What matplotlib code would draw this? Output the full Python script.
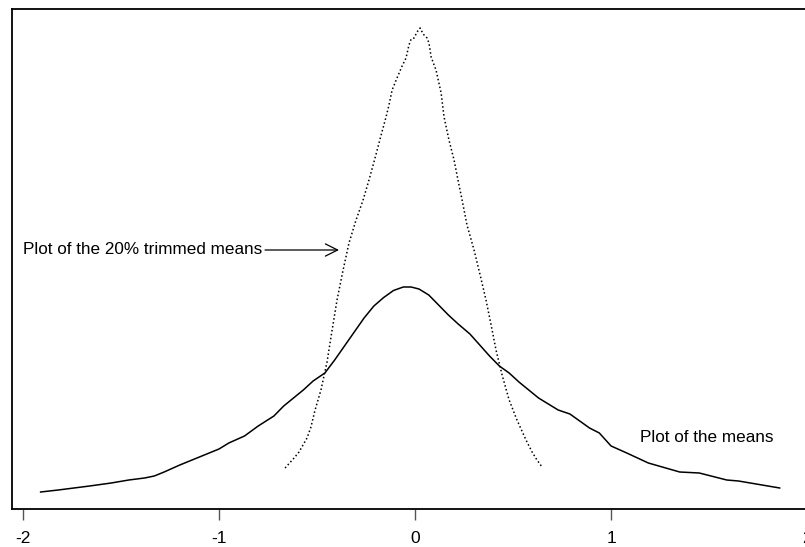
import matplotlib
matplotlib.use('Agg')
from matplotlib import pyplot as plt

plt.rcParams['font.family'] = ['Liberation Sans', 'DejaVu Sans']

# density curve of the sample means (solid)
mean_x = [-1.91, -1.82, -1.66, -1.55, -1.46, -1.38, -1.33, -1.28, -1.20, -1.10,
          -1.00, -0.95, -0.87, -0.80, -0.72, -0.67, -0.62, -0.57, -0.52, -0.46,
          -0.41, -0.36, -0.31, -0.26, -0.21, -0.16, -0.11, -0.06, -0.02, 0.02,
          0.07, 0.12, 0.17, 0.22, 0.28, 0.33, 0.38, 0.43, 0.48, 0.53,
          0.58, 0.63, 0.68, 0.73, 0.79, 0.84, 0.89, 0.94, 1.00, 1.08,
          1.19, 1.35, 1.45, 1.59, 1.65, 1.74, 1.86]
mean_y = [0.032, 0.040, 0.056, 0.068, 0.080, 0.088, 0.096, 0.112, 0.140, 0.172,
          0.204, 0.228, 0.256, 0.296, 0.336, 0.376, 0.408, 0.440, 0.476, 0.508,
          0.560, 0.616, 0.672, 0.728, 0.776, 0.810, 0.838, 0.852, 0.852, 0.844,
          0.820, 0.780, 0.740, 0.704, 0.664, 0.620, 0.576, 0.536, 0.508, 0.472,
          0.440, 0.408, 0.384, 0.360, 0.344, 0.316, 0.288, 0.268, 0.216, 0.188,
          0.148, 0.112, 0.108, 0.080, 0.076, 0.064, 0.048]

# density curve of the 20% trimmed means (dotted)
trim_x = [-0.663, -0.617, -0.592, -0.551, -0.531, -0.510, -0.480, -0.449, -0.423, -0.398,
          -0.367, -0.337, -0.301, -0.265, -0.235, -0.204, -0.173, -0.148, -0.133, -0.117,
          -0.092, -0.066, -0.046, -0.031, -0.020, -0.005, 0.010, 0.026, 0.041, 0.061,
          0.071, 0.082, 0.107, 0.133, 0.148, 0.173, 0.199, 0.219, 0.240, 0.265,
          0.301, 0.332, 0.362, 0.388, 0.413, 0.444, 0.480, 0.520, 0.566, 0.597,
          0.622, 0.648]
trim_y = [0.128, 0.168, 0.192, 0.248, 0.292, 0.360, 0.440, 0.552, 0.680, 0.800,
          0.920, 1.028, 1.120, 1.200, 1.280, 1.368, 1.460, 1.532, 1.580, 1.640,
          1.688, 1.736, 1.768, 1.820, 1.844, 1.848, 1.872, 1.888, 1.864, 1.848,
          1.828, 1.772, 1.720, 1.628, 1.532, 1.440, 1.360, 1.280, 1.200, 1.100,
          1.000, 0.900, 0.800, 0.700, 0.600, 0.500, 0.400, 0.320, 0.240, 0.192,
          0.160, 0.132]

xticks = [-2, -1, 0, 1, 2]
xticklabels = ['-2', '-1', '0', '1', '2']

fig = plt.figure(figsize=(8.05, 5.47), dpi=100)
ax = fig.add_axes([12 / 805, 38 / 547, 801 / 805, 500 / 547])

ax.plot(mean_x, mean_y, color='black', lw=1.1)
ax.plot(trim_x, trim_y, color='black', lw=1.1, linestyle=(0, (1, 1.6)))

ax.set_xlim(-2.056, 2.03)
ax.set_ylim(-0.036, 1.964)

ax.set_xticks(xticks)
ax.set_xticklabels(xticklabels, fontsize=12.5)
ax.set_yticks([])
ax.tick_params(axis='x', direction='out', length=8, width=1, color='#555555', pad=8)
for s in ax.spines.values():
    s.set_linewidth(1.3)

ax.annotate('Plot of the 20% trimmed means', xy=(-0.388, 1.0), xytext=(-2.0, 1.0),
            fontsize=12.3, va='center', ha='left',
            arrowprops=dict(arrowstyle='->', color='black', lw=0.9,
                            mutation_scale=22, shrinkA=0, shrinkB=0))
ax.text(1.145, 0.252, 'Plot of the means', fontsize=12.3, va='center', ha='left')

fig.savefig('out.png', dpi=100)
